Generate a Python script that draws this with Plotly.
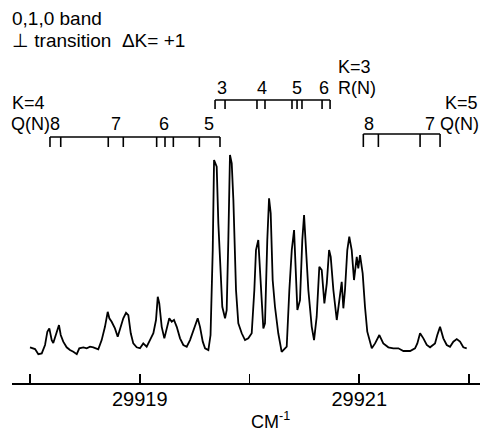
import plotly.graph_objects as go

# ---- spectrum (wavenumber in cm^-1, relative intensity) ----
wavenumber = [
    29918.000, 29918.046, 29918.076, 29918.107, 29918.137, 29918.158, 29918.176, 29918.198,
    29918.212, 29918.243, 29918.264, 29918.280, 29918.303, 29918.334, 29918.364, 29918.395,
    29918.426, 29918.449, 29918.486, 29918.517, 29918.547, 29918.577, 29918.622, 29918.653,
    29918.683, 29918.708, 29918.723, 29918.744, 29918.774, 29918.799, 29918.820, 29918.850,
    29918.875, 29918.896, 29918.918, 29918.941, 29918.972, 29919.002, 29919.032, 29919.063,
    29919.093, 29919.124, 29919.148, 29919.164, 29919.178, 29919.200, 29919.224, 29919.246,
    29919.269, 29919.291, 29919.312, 29919.337, 29919.367, 29919.397, 29919.428, 29919.458,
    29919.488, 29919.528, 29919.549, 29919.574, 29919.595, 29919.625, 29919.645, 29919.665,
    29919.677, 29919.688, 29919.701, 29919.716, 29919.738, 29919.752, 29919.777, 29919.792,
    29919.807, 29919.822, 29919.838, 29919.853, 29919.877, 29919.898, 29919.929, 29919.959,
    29919.989, 29920.020, 29920.044, 29920.059, 29920.080, 29920.096, 29920.111, 29920.126,
    29920.141, 29920.162, 29920.178, 29920.193, 29920.211, 29920.232, 29920.262, 29920.293,
    29920.339, 29920.363, 29920.385, 29920.406, 29920.424, 29920.436, 29920.460, 29920.481,
    29920.497, 29920.515, 29920.536, 29920.567, 29920.588, 29920.612, 29920.636, 29920.658,
    29920.682, 29920.704, 29920.725, 29920.740, 29920.764, 29920.795, 29920.818, 29920.840,
    29920.855, 29920.870, 29920.891, 29920.909, 29920.931, 29920.952, 29920.977, 29920.991,
    29921.007, 29921.031, 29921.052, 29921.073, 29921.114, 29921.144, 29921.183, 29921.219,
    29921.265, 29921.310, 29921.356, 29921.402, 29921.463, 29921.508, 29921.529, 29921.554,
    29921.584, 29921.615, 29921.645, 29921.690, 29921.711, 29921.736, 29921.766, 29921.797,
    29921.827, 29921.857, 29921.888, 29921.918, 29921.948, 29921.979,
]
intensity = [
    0.014, 0.005, -0.021, -0.017, 0.026, 0.094, 0.111, 0.051,
    0.036, 0.094, 0.128, 0.077, 0.043, 0.014, 0.000, -0.009,
    -0.021, 0.009, 0.014, 0.009, 0.017, 0.014, 0.004, 0.051,
    0.119, 0.196, 0.163, 0.145, 0.111, 0.068, 0.111, 0.163,
    0.191, 0.179, 0.086, 0.034, 0.014, 0.009, 0.034, 0.017,
    0.051, 0.086, 0.154, 0.273, 0.239, 0.119, 0.060, 0.111,
    0.163, 0.145, 0.154, 0.119, 0.060, 0.026, 0.017, 0.051,
    0.103, 0.163, 0.119, 0.043, 0.009, 0.000, 0.077, 0.513,
    0.974, 0.957, 0.940, 0.650, 0.393, 0.222, 0.163, 0.205,
    0.564, 1.000, 0.957, 0.769, 0.308, 0.137, 0.086, 0.051,
    0.060, 0.086, 0.308, 0.513, 0.564, 0.427, 0.256, 0.111,
    0.137, 0.564, 0.778, 0.701, 0.359, 0.222, 0.086, -0.009,
    0.017, 0.308, 0.513, 0.615, 0.393, 0.205, 0.256, 0.564,
    0.692, 0.496, 0.308, 0.119, 0.051, 0.171, 0.427, 0.410,
    0.239, 0.342, 0.513, 0.478, 0.308, 0.154, 0.256, 0.350,
    0.214, 0.308, 0.513, 0.581, 0.513, 0.359, 0.478, 0.419,
    0.487, 0.393, 0.222, 0.094, 0.009, 0.034, 0.077, 0.034,
    0.014, 0.009, 0.009, -0.005, -0.005, 0.009, 0.034, 0.086,
    0.060, 0.026, 0.014, 0.034, 0.077, 0.119, 0.060, 0.026,
    0.017, 0.043, 0.056, 0.043, 0.014, 0.009,
]

# ---- axis ticks ----
tick_values = [29919, 29921]
tick_labels = ["29919", "29921"]
minor_tick_values = [29918, 29920, 29922]

# ---- line assignments (cm^-1) ----
k4_q_lines = [29918.182, 29918.280, 29918.713, 29918.850, 29919.154,
              29919.230, 29919.306, 29919.543, 29919.731]
k3_r_lines = [29919.686, 29919.777, 29920.068, 29920.141, 29920.387,
              29920.433, 29920.478, 29920.661, 29920.734]
k5_q_lines = [29921.037, 29921.174, 29921.554, 29921.736]

# ---- layout geometry ----
W, H = 482, 431
ML, MR, MT, MB = 12, 2, 0, 48
PW = W - ML - MR
PH = H - MT - MB


def px(x):
    return (x - ML) / PW


def py(y):
    return (H - MB - y) / PH


FONT = "Liberation Sans, Arial, sans-serif"
LABEL_SIZE = 18

fig = go.Figure()
fig.add_trace(go.Scatter(
    x=wavenumber, y=intensity, mode="lines",
    line=dict(color="black", width=1.8), hoverinfo="skip",
))

shapes = []


def bracket(lines, y_line, y_tick):
    shapes.append(dict(type="line", xref="x", yref="paper",
                       x0=lines[0], x1=lines[-1], y0=py(y_line), y1=py(y_line),
                       line=dict(color="black", width=1.6)))
    for v in lines:
        shapes.append(dict(type="line", xref="x", yref="paper",
                           x0=v, x1=v, y0=py(y_line), y1=py(y_tick),
                           line=dict(color="black", width=1.6)))


bracket(k4_q_lines, 137, 147)
bracket(k3_r_lines, 100, 109)
bracket(k5_q_lines, 134, 147)

labels = [
    ("0,1,0 band", 10, 18, "left", 19),
    ("⊥ transition  ΔK= +1", 10, 41, "left", 19),
    ("K=3", 336, 67, "left", LABEL_SIZE),
    ("R(N)", 336, 88, "left", LABEL_SIZE),
    ("3", 222, 88, "center", LABEL_SIZE),
    ("4", 262, 88, "center", LABEL_SIZE),
    ("5", 297, 88, "center", LABEL_SIZE),
    ("6", 324, 88, "center", LABEL_SIZE),
    ("K=4", 10, 103, "left", LABEL_SIZE),
    ("Q(N)8", 9, 124, "left", LABEL_SIZE),
    ("7", 116, 124, "center", LABEL_SIZE),
    ("6", 164, 124, "center", LABEL_SIZE),
    ("5", 209, 124, "center", LABEL_SIZE),
    ("K=5", 443, 103, "left", LABEL_SIZE),
    ("8", 369, 124, "center", LABEL_SIZE),
    ("7 Q(N)", 481, 124, "right", LABEL_SIZE),
    ("CM<sup>-1</sup>", 270, 420, "center", 18),
]
annotations = [
    dict(text=t, x=px(x), y=py(y), xref="paper", yref="paper",
         xanchor=a, yanchor="middle", showarrow=False,
         font=dict(family=FONT, size=s, color="black"))
    for t, x, y, a, s in labels
]

fig.update_layout(
    width=W, height=H,
    margin=dict(l=ML, r=MR, t=MT, b=MB, pad=0),
    paper_bgcolor="white", plot_bgcolor="white",
    showlegend=False,
    shapes=shapes, annotations=annotations,
    xaxis=dict(
        range=[29917.836, 29922.100],
        showgrid=False, zeroline=False,
        showline=True, linecolor="black", linewidth=1.6,
        ticks="inside", ticklen=9, tickwidth=1.6, tickcolor="black",
        tickvals=tick_values, ticktext=tick_labels,
        tickfont=dict(family=FONT, size=20, color="black"),
        ticklabelstandoff=-3,
        minor=dict(tickvals=minor_tick_values, ticks="inside", ticklen=9,
                   tickwidth=1.6, tickcolor="black", showgrid=False),
    ),
    yaxis=dict(range=[-0.169, 1.795], visible=False, showgrid=False, zeroline=False),
)

fig.write_html(
    "out.html",
    config={"displayModeBar": False, "staticPlot": True},
    post_script="document.body.style.margin='0';document.body.style.overflow='hidden';",
)
